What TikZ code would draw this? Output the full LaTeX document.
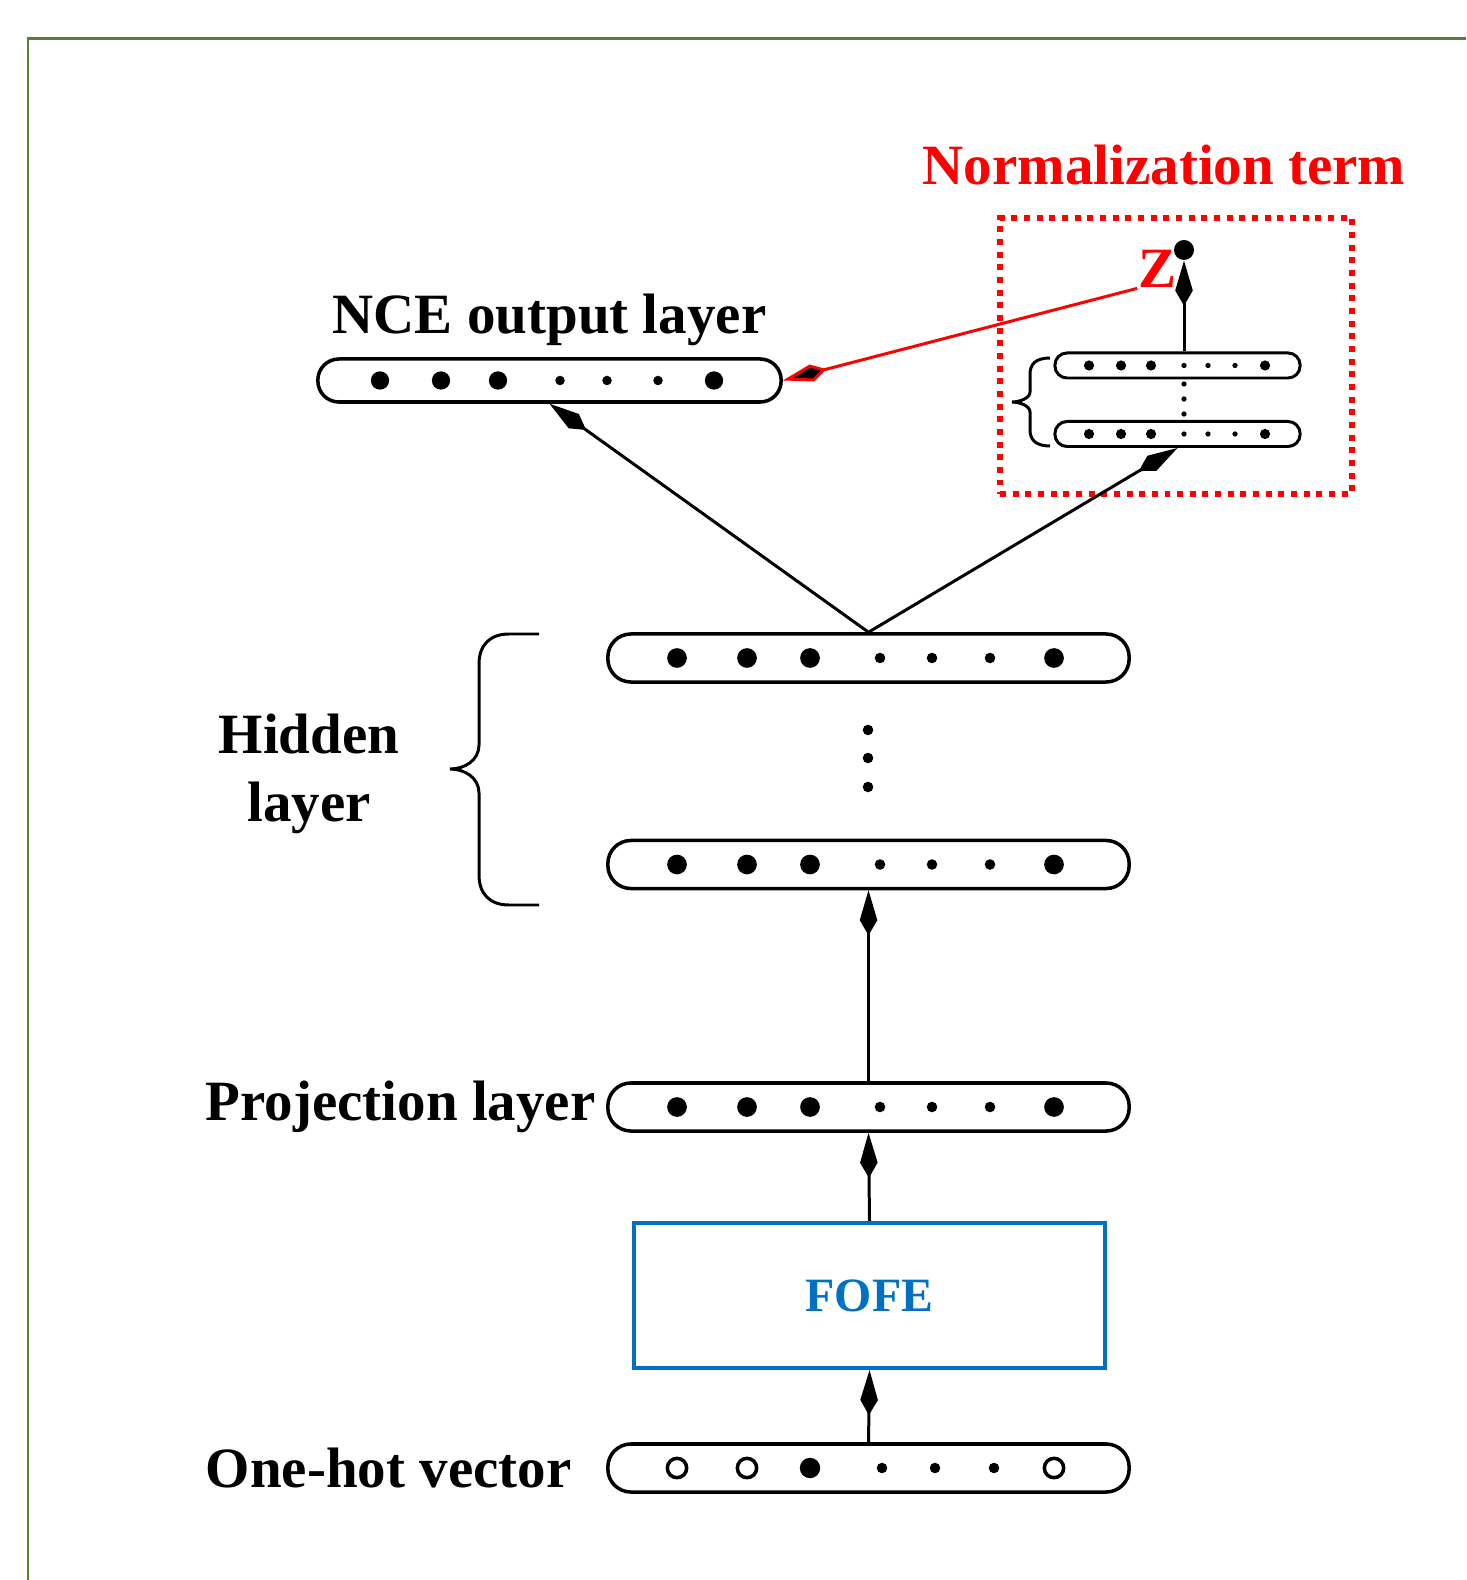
\documentclass[tikz,border=0pt]{standalone}
\usepackage{fontspec}
\setmainfont{Liberation Serif}
\usetikzlibrary{arrows.meta, positioning}
\definecolor{rahmengruen}{RGB}{84,130,53}
\definecolor{fofeblau}{RGB}{0,112,192}

\begin{document}
\begin{tikzpicture}[x=0.01cm, y=-0.01cm,
    kapsel/.style={draw, line width=1pt, rounded corners=0.23cm, minimum width=5.21cm, minimum height=0.48cm, inner sep=0pt},
    kleinkapsel/.style={draw, line width=0.85pt, rounded corners=0.12cm, minimum width=2.45cm, minimum height=0.25cm, inner sep=0pt},
    beschriftung/.style={font=\bfseries\fontsize{16.2}{19.2}\selectfont, inner sep=0pt, align=center},
    pfeil/.style={line width=0.85pt, -{Kite[length=12.8pt, width=5pt, inset=4.3pt]}},
    klammer/.style={line width=0.85pt},
]
    \useasboundingbox (0,0) rectangle (1466,1580);

    % 1. Rahmen
    \draw[rahmengruen, line width=0.85pt] (28,1580) -- (28,39) -- (1466,39);

    % 2. Schichten
    \node[kapsel, minimum width=4.63cm, minimum height=0.43cm, rounded corners=0.21cm] (nce) at (549.5,380.5) {};
    \node[kapsel] (hid1) at (868.5,658) {};
    \node[kapsel] (hid2) at (868.5,864.5) {};
    \node[kapsel] (proj) at (868.5,1107) {};
    \node[kapsel] (onehot) at (868.5,1468) {};
    \node[draw=fofeblau, line width=1.15pt, minimum width=4.71cm, minimum height=1.45cm, text=fofeblau,
          font=\bfseries\fontsize{13.6}{16}\selectfont] (fofe) at (869.5,1295.5) {FOFE};

    % Normierungsterm
    \node[draw=red, line width=1.7pt, dash pattern=on 1.7pt off 1.9pt, minimum width=3.52cm, minimum height=2.75cm] (normbox) at (1176,356) {};
    \node[kleinkapsel] (normA) at (1177.5,365.5) {};
    \node[kleinkapsel] (normB) at (1177.5,434) {};
    \node[circle, fill, inner sep=0pt, minimum size=0.2cm] (z) at (1184,250) {};

    % 3. Punkte in den Schichten
    \foreach \x in {380,441,498,714} \fill (\x,0 |- nce) circle (2.6pt);
    \foreach \x in {560,607,658} \fill (\x,0 |- nce) circle (1.35pt);
    \foreach \s in {hid1,hid2,proj} {
        \foreach \x in {677,747,810,1054} \fill (\x,0 |- \s) circle (2.8pt);
        \foreach \x in {880,932,990} \fill (\x,0 |- \s) circle (1.5pt);
    }
    \foreach \x in {677,747,1054} \draw[line width=1pt] (\x,0 |- onehot) circle (2.75pt);
    \fill (810,0 |- onehot) circle (2.9pt);
    \foreach \x in {882,935,994} \fill (\x,0 |- onehot) circle (1.5pt);
    \foreach \s in {normA,normB} {
        \foreach \x in {1089,1121,1151,1265} \fill (\x,0 |- \s) circle (1.45pt);
        \foreach \x in {1184,1208,1235} \fill (\x,0 |- \s) circle (0.75pt);
    }
    \foreach \y in {730,758,787} \fill (868,\y) circle (1.5pt);
    \foreach \y in {384,399,414} \fill (1184,\y) circle (0.75pt);

    % 4. Klammern
    \draw[klammer] (539,634) -- (509,634) .. controls (490,634) and (479,645) .. (479,664) -- (479,745)
        .. controls (479,760) and (465,769) .. (450,769) .. controls (465,769) and (479,778) .. (479,793)
        -- (479,875) .. controls (479,894) and (490,905) .. (509,905) -- (539,905);
    \draw[klammer] (1050,358) .. controls (1036,358) and (1030,364) .. (1030,374) -- (1030,392)
        .. controls (1030,398) and (1020,402) .. (1012,402) .. controls (1020,402) and (1030,406) .. (1030,412)
        -- (1030,430) .. controls (1030,440) and (1036,446) .. (1050,446);

    % 5. Verbindungen
    \draw[pfeil] (hid1.north) -- (nce.south);
    \draw[pfeil] (hid1.north) -- (normB.south);
    \draw[pfeil] (proj.north) -- (hid2.south);
    \draw[pfeil] (fofe.north) -- (proj.south);
    \draw[pfeil] (onehot.north) -- (fofe.south);
    \draw[pfeil] (z |- normA.north) -- (z.south);

    % 6. Beschriftungen
    \node[beschriftung, above=0.11cm of nce] (ncelbl) {NCE output layer};
    \node[beschriftung, text=red, above=0.3cm of normbox, xshift=-0.12cm] (normlbl) {Normalization term};
    \node[beschriftung, text=red] (zlabel) at (1157,269) {Z};
    \node[beschriftung] (hidlbl) at (309,774) {Hidden\\layer};
    \node[beschriftung, left=0.1cm of proj] (projlbl) {Projection layer};
    \node[beschriftung, left=0.34cm of onehot] (onehotlbl) {One-hot vector};

    \draw[red, line width=0.85pt, -{Kite[length=12.8pt, width=5pt, inset=4.3pt, fill=black]}] (zlabel.south west) -- (nce.east);

\end{tikzpicture}
\end{document}
